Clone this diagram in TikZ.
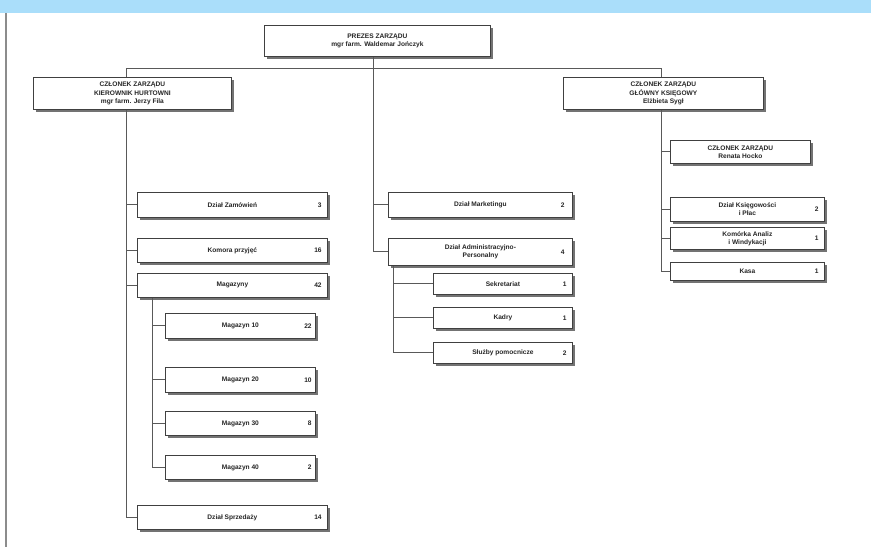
\documentclass[tikz,border=0pt]{standalone}
\usepackage{fontspec}
\setmainfont{Liberation Sans}
\usetikzlibrary{shadows}
\definecolor{bandblue}{RGB}{170,222,250}
\newcommand{\orgfs}{\fontsize{6.6}{8.2}\selectfont\bfseries}
\tikzset{
  bx/.style={draw=black!75, line width=0.8pt, fill=white, inner sep=1pt, align=center,
    font=\orgfs, text=black!85, anchor=north west,
    drop shadow={shadow xshift=2.5pt, shadow yshift=-2.5pt, fill=black!55, opacity=1}},
  numtxt/.style={font=\orgfs, text=black!85, anchor=east, inner sep=0pt},
  ln/.style={draw=black!65, line width=0.9pt}
}
\begin{document}
\begin{tikzpicture}[x=1pt,y=-1pt]
\useasboundingbox (0,0) rectangle (871,547);
\fill[white] (0,0) rectangle (871,547);
\fill[bandblue] (0,0) rectangle (871,13);
\draw[black!45, line width=1.5pt] (6,13) -- (6,547);

% top level
\node[bx, minimum width=226pt, minimum height=31pt] (prez) at (264,25) {PREZES ZARZĄDU\\mgr farm. Waldemar Jończyk};
\node[bx, minimum width=198pt, minimum height=32pt] (czl) at (33,77) {CZŁONEK ZARZĄDU\\KIEROWNIK HURTOWNI\\mgr farm. Jerzy Fila};
\node[bx, minimum width=200pt, minimum height=32pt] (czr) at (563,77) {CZŁONEK ZARZĄDU\\GŁÓWNY KSIĘGOWY\\Elżbieta Sygł};

\coordinate (j0) at (373,68);
\coordinate (hl) at (126,68);
\coordinate (hr) at (661,68);

% left column
\node[bx, minimum width=190pt, minimum height=25pt] (zam) at (137,192) {Dział Zamówień};
\node[numtxt] (zamN) at ([xshift=-6pt]zam.east) {3};
\node[bx, minimum width=190pt, minimum height=24pt] (kom) at (137,238) {Komora przyjęć};
\node[numtxt] (komN) at ([xshift=-6pt]kom.east) {16};
\node[bx, minimum width=190pt, minimum height=24pt] (mag) at (137,273) {Magazyny};
\node[numtxt] (magN) at ([xshift=-6pt]mag.east) {42};
\node[bx, minimum width=150pt, minimum height=25pt] (m10) at (165,313) {Magazyn 10};
\node[numtxt] (m10N) at ([xshift=-4pt]m10.east) {22};
\node[bx, minimum width=150pt, minimum height=25pt] (m20) at (165,367) {Magazyn 20};
\node[numtxt] (m20N) at ([xshift=-4pt]m20.east) {10};
\node[bx, minimum width=150pt, minimum height=24pt] (m30) at (165,411) {Magazyn 30};
\node[numtxt] (m30N) at ([xshift=-4pt]m30.east) {8};
\node[bx, minimum width=150pt, minimum height=24pt] (m40) at (165,455) {Magazyn 40};
\node[numtxt] (m40N) at ([xshift=-4pt]m40.east) {2};
\node[bx, minimum width=190pt, minimum height=24pt] (spr) at (137,505) {Dział Sprzedaży};
\node[numtxt] (sprN) at ([xshift=-6pt]spr.east) {14};

% middle column
\node[bx, minimum width=184pt, minimum height=25pt] (mkt) at (388,192) {Dział Marketingu};
\node[numtxt] (mktN) at ([xshift=-8pt]mkt.east) {2};
\node[bx, minimum width=184pt, minimum height=27pt] (adm) at (388,238) {Dział Administracyjno-\\Personalny};
\node[numtxt] (admN) at ([xshift=-8pt]adm.east) {4};
\node[bx, minimum width=139pt, minimum height=21pt] (sek) at (433,273) {Sekretariat};
\node[numtxt] (sekN) at ([xshift=-6pt]sek.east) {1};
\node[bx, minimum width=139pt, minimum height=21pt] (kad) at (433,307) {Kadry};
\node[numtxt] (kadN) at ([xshift=-6pt]kad.east) {1};
\node[bx, minimum width=139pt, minimum height=21pt] (slu) at (433,342) {Służby pomocnicze};
\node[numtxt] (sluN) at ([xshift=-6pt]slu.east) {2};

% right column
\node[bx, minimum width=140pt, minimum height=23pt] (ren) at (670,140) {CZŁONEK ZARZĄDU\\Renata Hocko};
\node[bx, minimum width=154pt, minimum height=24pt] (ksi) at (670,197) {Dział Księgowości\\i Płac};
\node[numtxt] (ksiN) at ([xshift=-6pt]ksi.east) {2};
\node[bx, minimum width=154pt, minimum height=22pt] (ank) at (670,227) {Komórka Analiz\\i Windykacji};
\node[numtxt] (ankN) at ([xshift=-6pt]ank.east) {1};
\node[bx, minimum width=154pt, minimum height=18pt] (kas) at (670,262) {Kasa};
\node[numtxt] (kasN) at ([xshift=-6pt]kas.east) {1};

% connectors
\draw[ln] (j0 |- prez.south) -- (j0);
\draw[ln] (hl |- czl.north) -- (hl) -- (hr) -- (hr |- czr.north);
\coordinate (ml) at (152,0);
\coordinate (am) at (393,0);

\draw[ln] (hl |- czl.south) -- (hl |- spr.west);
\foreach \n in {zam,kom,mag,spr} \draw[ln] (hl |- \n.west) -- (\n.west);
\draw[ln] (ml |- mag.south) -- (ml |- m40.west);
\foreach \n in {m10,m20,m30,m40} \draw[ln] (ml |- \n.west) -- (\n.west);

\draw[ln] (j0) -- (j0 |- adm.west);
\foreach \n in {mkt,adm} \draw[ln] (j0 |- \n.west) -- (\n.west);
\draw[ln] (am |- adm.south) -- (am |- slu.west);
\foreach \n in {sek,kad,slu} \draw[ln] (am |- \n.west) -- (\n.west);

\draw[ln] (hr |- czr.south) -- (hr |- kas.west);
\foreach \n in {ren,ksi,ank,kas} \draw[ln] (hr |- \n.west) -- (\n.west);
\end{tikzpicture}
\end{document}
